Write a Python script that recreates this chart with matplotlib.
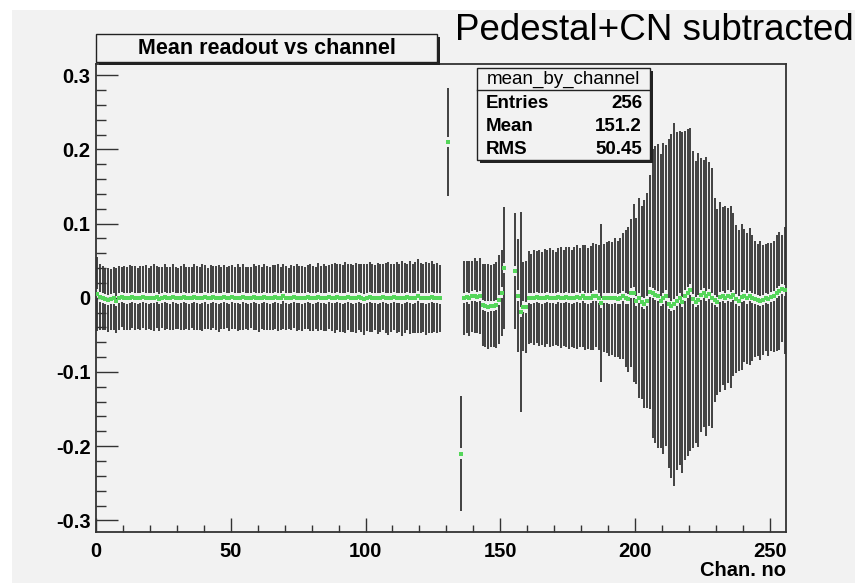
import numpy as np
import matplotlib
matplotlib.use("Agg")
import matplotlib.pyplot as plt
from matplotlib.patches import Rectangle

nan = np.nan

# mean readout per channel (empty channels are nan)
mean_vals = [
    0.005, 0.001, 0.000, -0.002, -0.003, -0.002, -0.001, -0.004, 0.000, 0.001, 0.000, -0.001, 0.000, 0.001, 0.000, -0.001,
    0.000, 0.001, 0.000, -0.001, 0.000, 0.000, 0.001, -0.002, 0.000, 0.001, 0.000, -0.001, 0.001, 0.000, -0.001, 0.000,
    0.001, 0.000, -0.001, 0.000, 0.001, 0.000, -0.001, 0.000, 0.001, -0.001, 0.000, 0.001, 0.000, -0.001, 0.000, 0.001,
    0.000, -0.001, 0.001, 0.000, 0.000, -0.001, 0.001, 0.000, -0.001, 0.000, 0.001, 0.000, -0.001, 0.000, 0.001, 0.000,
    -0.001, 0.000, 0.001, 0.000, -0.001, 0.002, 0.000, -0.001, 0.000, 0.001, 0.000, 0.000, -0.001, 0.000, 0.001, 0.000,
    -0.001, 0.000, 0.001, 0.000, 0.000, -0.001, 0.001, 0.000, 0.000, 0.001, 0.000, -0.001, 0.000, 0.001, 0.000, -0.001,
    0.000, 0.001, 0.000, -0.002, 0.000, 0.001, 0.000, 0.000, -0.001, 0.000, 0.001, 0.000, -0.001, 0.000, 0.001, 0.000,
    0.000, -0.001, 0.000, 0.001, 0.000, -0.001, 0.000, 0.002, 0.000, 0.000, -0.001, 0.000, 0.001, 0.000, 0.000, -0.001,
    nan, nan, 0.210, nan, nan, nan, nan, -0.210, 0.000, 0.001, -0.001, 0.002, 0.003, 0.001, 0.002, -0.010,
    -0.011, -0.012, -0.011, -0.011, -0.010, -0.003, 0.007, 0.040, nan, nan, nan, 0.036, 0.003, -0.019, -0.012, -0.013,
    0.000, -0.001, 0.000, 0.001, 0.000, -0.001, 0.000, 0.001, 0.000, 0.000, -0.001, 0.001, 0.000, 0.000, 0.001, 0.000,
    -0.001, 0.000, 0.001, 0.000, 0.002, 0.000, -0.001, 0.000, 0.002, 0.003, 0.000, -0.007, 0.000, 0.000, -0.001, -0.001,
    0.000, -0.002, -0.001, 0.002, -0.001, -0.002, 0.006, 0.007, -0.004, 0.000, -0.006, -0.008, -0.004, 0.008, 0.006, 0.004,
    0.002, -0.004, -0.001, 0.003, -0.008, -0.011, -0.009, -0.004, 0.000, -0.006, 0.003, 0.007, 0.011, -0.002, -0.006, -0.003,
    0.004, 0.006, 0.002, 0.005, 0.000, -0.003, -0.006, 0.001, 0.002, 0.000, 0.003, 0.001, 0.004, -0.002, -0.004, 0.001,
    0.003, -0.001, 0.002, 0.000, -0.002, -0.003, -0.004, -0.003, 0.000, -0.002, 0.001, 0.002, 0.006, 0.009, 0.012, 0.010,
]

# error on the mean per channel
err_vals = [
    0.050, 0.044, 0.043, 0.042, 0.043, 0.041, 0.042, 0.044, 0.043, 0.041, 0.043, 0.042, 0.044, 0.042, 0.043, 0.041,
    0.043, 0.042, 0.044, 0.041, 0.043, 0.045, 0.042, 0.043, 0.041, 0.044, 0.042, 0.043, 0.045, 0.042, 0.041, 0.043,
    0.044, 0.042, 0.043, 0.041, 0.044, 0.043, 0.042, 0.045, 0.043, 0.041, 0.044, 0.042, 0.043, 0.045, 0.042, 0.043,
    0.041, 0.044, 0.043, 0.042, 0.045, 0.043, 0.044, 0.042, 0.043, 0.041, 0.044, 0.043, 0.045, 0.042, 0.044, 0.043,
    0.042, 0.044, 0.043, 0.045, 0.042, 0.044, 0.043, 0.041, 0.044, 0.042, 0.045, 0.043, 0.044, 0.042, 0.043, 0.045,
    0.044, 0.042, 0.046, 0.043, 0.045, 0.044, 0.043, 0.045, 0.047, 0.044, 0.046, 0.045, 0.048, 0.044, 0.046, 0.045,
    0.047, 0.044, 0.046, 0.048, 0.045, 0.047, 0.046, 0.044, 0.048, 0.046, 0.045, 0.047, 0.049, 0.046, 0.045, 0.048,
    0.046, 0.051, 0.047, 0.045, 0.049, 0.046, 0.048, 0.050, 0.047, 0.046, 0.049, 0.047, 0.048, 0.046, 0.047, 0.045,
    nan, nan, 0.073, nan, nan, nan, nan, 0.077, 0.050, 0.049, 0.051, 0.048, 0.050, 0.049, 0.051, 0.055,
    0.056, 0.057, 0.055, 0.056, 0.058, 0.060, 0.058, 0.082, nan, nan, nan, 0.078, 0.076, 0.135, 0.060, 0.062,
    0.063, 0.060, 0.064, 0.062, 0.065, 0.063, 0.066, 0.064, 0.067, 0.065, 0.063, 0.066, 0.068, 0.065, 0.067, 0.069,
    0.066, 0.068, 0.070, 0.067, 0.069, 0.071, 0.068, 0.070, 0.072, 0.069, 0.071, 0.106, 0.073, 0.075, 0.078, 0.076,
    0.080, 0.078, 0.082, 0.085, 0.092, 0.098, 0.100, 0.120, 0.112, 0.135, 0.130, 0.140, 0.145, 0.158, 0.195, 0.200,
    0.205, 0.198, 0.210, 0.203, 0.222, 0.232, 0.245, 0.228, 0.225, 0.230, 0.222, 0.220, 0.218, 0.200, 0.190, 0.198,
    0.185, 0.180, 0.188, 0.178, 0.175, 0.138, 0.125, 0.128, 0.120, 0.124, 0.118, 0.122, 0.110, 0.100, 0.095, 0.098,
    0.090, 0.088, 0.092, 0.085, 0.078, 0.075, 0.080, 0.074, 0.072, 0.076, 0.073, 0.075, 0.078, 0.080, 0.072, 0.086,
]

n_chan = 256
stats_rows = [("Entries", "256"), ("Mean", "151.2"), ("RMS", "50.45")]

W, H = 855, 583
BG = "#f2f2f2"
FONT = "Liberation Sans"

fig = plt.figure(figsize=(W / 100, H / 100), dpi=100)
fig.patch.set_facecolor("white")
# grey canvas with thin white strip on the left and top
fig.patches.append(Rectangle((12 / W, 0), 1, 1 - 10 / H, transform=fig.transFigure,
                             facecolor=BG, edgecolor="none", zorder=-10))

ax = fig.add_axes([96 / W, 1 - 532 / H, 690 / W, 468.5 / H])
ax.set_facecolor(BG)

mean = np.array(mean_vals)
err = np.array(err_vals)
x = np.arange(n_chan) + 0.5
ok = ~np.isnan(mean)

# error bars stop short of the marker
gap = 0.007
ax.vlines(x[ok], mean[ok] + gap, mean[ok] + err[ok], color="#333333", lw=1.3, zorder=2)
ax.vlines(x[ok], mean[ok] - err[ok], mean[ok] - gap, color="#333333", lw=1.3, zorder=2)
ax.plot(x[ok], mean[ok], ls="none", marker="s", ms=3.4, mew=0,
        color="#55d65a", zorder=3)

ymax = 1.1 * np.nanmax(np.abs(mean) + err)
ax.set_xlim(0, n_chan)
ax.set_ylim(-ymax, ymax)

ax.set_xticks(np.arange(0, 251, 50))
ax.set_xticks(np.arange(0, 257, 10), minor=True)
ax.set_yticks([-0.3, -0.2, -0.1, 0, 0.1, 0.2, 0.3])
ax.set_yticklabels(["-0.3", "-0.2", "-0.1", "0", "0.1", "0.2", "0.3"])
ax.set_yticks(np.arange(-0.30, 0.301, 0.02), minor=True)

ax.tick_params(axis="x", which="major", direction="in", length=10, width=1, color="#333333", pad=7)
ax.tick_params(axis="x", which="minor", direction="in", length=5, width=1, color="#333333")
ax.tick_params(axis="y", which="major", direction="in", length=15.5, width=1, color="#333333", pad=4)
ax.tick_params(axis="y", which="minor", direction="in", length=7.5, width=1, color="#333333")
for lab in ax.get_xticklabels() + ax.get_yticklabels():
    lab.set_fontfamily(FONT)
    lab.set_fontweight("bold")
    lab.set_fontsize(14.5)
for sp in ax.spines.values():
    sp.set_color("#333333")
    sp.set_linewidth(1.3)


def framed_box(x0, y0, x1, y1):
    # box in pixel coords (top-left origin) with a dark drop shadow
    fx0, fx1 = x0 / W, x1 / W
    fy0, fy1 = 1 - y1 / H, 1 - y0 / H
    sh = 2.5
    fig.patches.append(Rectangle((fx0 + sh / W, fy0 - sh / H), fx1 - fx0, fy1 - fy0,
                                 transform=fig.transFigure, facecolor="#222222",
                                 edgecolor="none", zorder=5))
    fig.patches.append(Rectangle((fx0, fy0), fx1 - fx0, fy1 - fy0,
                                 transform=fig.transFigure, facecolor=BG,
                                 edgecolor="#222222", lw=1.0, zorder=6))


# title box
framed_box(96, 34, 437, 62)
fig.text(267 / W, 1 - 48.5 / H, "Mean readout vs channel", ha="center", va="center",
         fontfamily=FONT, fontweight="bold", fontsize=15.5, zorder=7)

# stats box
framed_box(477, 68, 650, 160)
fig.lines.append(plt.Line2D([477 / W, 650 / W], [1 - 90 / H, 1 - 90 / H],
                            transform=fig.transFigure, color="#222222", lw=1.0, zorder=7))
fig.text(563.5 / W, 1 - 79 / H, "mean_by_channel", ha="center", va="center",
         fontfamily=FONT, fontsize=13.5, zorder=7)
for i, (name, val) in enumerate(stats_rows):
    yy = 1 - (104 + 22.5 * i) / H
    fig.text(486 / W, yy, name, ha="left", va="center", fontfamily=FONT,
             fontweight="bold", fontsize=13.5, zorder=7)
    fig.text(642 / W, yy, val, ha="right", va="center", fontfamily=FONT,
             fontweight="bold", fontsize=13.5, zorder=7)

fig.text(786 / W, 1 - 570 / H, "Chan. no", ha="right", va="center",
         fontfamily=FONT, fontweight="bold", fontsize=14.5)
fig.text(455 / W, 1 - 30 / H, "Pedestal+CN subtracted", ha="left", va="center",
         fontfamily=FONT, fontsize=26.5)

fig.savefig("out.png", dpi=100, facecolor=fig.get_facecolor())
